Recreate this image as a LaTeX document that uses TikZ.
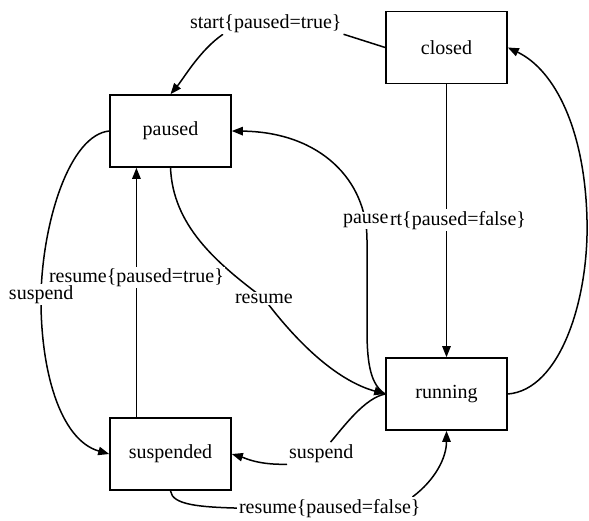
\documentclass[tikz,border=0pt]{standalone}
\usepackage{fontspec}
\setmainfont{Liberation Serif}
\usetikzlibrary{arrows.meta,calc}
\pgfdeclarelayer{bg}
\pgfsetlayers{bg,main}
\begin{document}
\begin{tikzpicture}[x=0.5pt,y=-0.5pt,
  state/.style={draw,line width=0.8pt,minimum width=60.5pt,minimum height=36pt,inner sep=0pt,font=\fontsize{10}{12}\selectfont},
  lbl/.style={fill=white,inner sep=0.8pt,anchor=base west,font=\fontsize{10}{12}\selectfont},
  edge/.style={line width=0.75pt},
  arr/.style={edge,-{Triangle[length=5.5pt,width=4.2pt]}}]
\useasboundingbox (0,0) rectangle (589,520);
% states
\node[state] (closed) at (446.5,47.5) {closed};
\node[state] (paused) at (170.5,131) {paused};
\node[state] (running) at (446.5,394) {running};
\node[state] (suspended) at (170.5,454) {suspended};
% labels
\node[lbl] (lstart) at (188,28) {start\{paused=true\}};
\node[lbl] (lpause) at (341,223) {pause};
\node[lbl] (lrt) at (388,225) {rt\{paused=false\}};
\node[lbl] (lresume) at (233,303) {resume};
\node[lbl] (lrpt) at (47,282) {resume\{paused=true\}};
\node[lbl] (lsusp1) at (7,299) {suspend};
\node[lbl] (lsusp2) at (287,458) {suspend};
\node[lbl] (lrpf) at (237,513) {resume\{paused=false\}};
\begin{pgfonlayer}{bg}
% closed -> paused (start)
\draw[edge] (closed.west) -- (lstart.south east);
\draw[arr] ($(lstart.south west)+(35,0)$) .. controls (200,50) and (184,78) .. (paused.north);
% closed -> running
\draw[arr] (closed) -- (running);
% running -> paused (pause)
\draw[arr] (running.west) .. controls (371,385) and (367,365) .. (367,330) -- (367,240)
  .. controls (367,180) and (320,132) .. (paused.east);
% paused -> running (resume)
\draw[arr] (paused.south) .. controls (173,225) and (215,262) .. (lresume.center)
  .. controls (295,340) and (335,380) .. (running.west);
% paused -> suspended (suspend)
\draw[arr] (paused.west) .. controls (70,135) and (43,220) .. (lsusp1.center -| 41,0)
  .. controls (40,370) and (60,440) .. (suspended.west);
% suspended -> paused (resume{paused=true})
\draw[arr] (suspended.north -| lrpt.center) -- (paused.south -| lrpt.center);
% running -> closed
\draw[arr] (running.east) .. controls (560,390) and (589,300) .. (587,220)
  .. controls (585,130) and (555,70) .. (closed.east);
% running -> suspended (suspend)
\draw[edge] (running.west) .. controls (365,398) and (345,425) .. (lsusp2);
\draw[arr] (lsusp2.south west) .. controls (258,465) and (245,458) .. (suspended.east);
% suspended -> running (resume{paused=false})
\draw[edge] (suspended.south) .. controls (172,505) and (200,507) .. (lrpf.west);
\draw[arr] ($(lrpf.north east)+(-10,0)$) .. controls (435,480) and (446.5,458) .. (running.south);
\end{pgfonlayer}
\end{tikzpicture}
\end{document}
